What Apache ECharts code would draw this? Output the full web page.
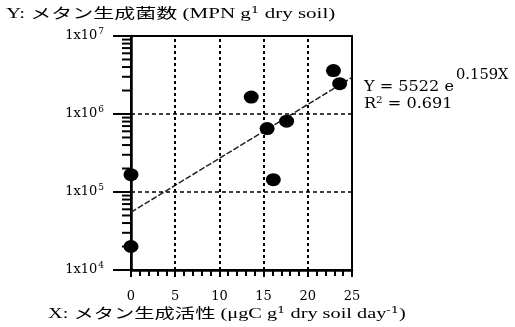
<!DOCTYPE html>
<html>
<head>
<meta charset="utf-8">
<script src="https://cdn.jsdelivr.net/npm/echarts@6/dist/echarts.min.js"></script>
<style>
  html, body { margin: 0; padding: 0; background: #fff; }
  #chart-container { width: 515px; height: 327px; }
</style>
</head>
<body>
<div id="chart-container"></div>
<script>
// メタン生成活性 (X) と メタン生成菌数 (Y)
const activityX = [0, 0, 13.6, 15.4, 16.1, 17.6, 22.9, 23.6];
const countY = [167000, 20000, 1650000, 650000, 144000, 810000, 3600000, 2450000];

// 回帰直線の両端
const trendX = [0, 25];
const trendY = [55000, 2940000];

const xTicks = [0, 5, 10, 15, 20, 25];
const yDecades = [4, 5, 6, 7];
const gridX = [5, 10, 15, 20];
const gridY = [1e5, 1e6];

const serif = '"DejaVu Serif", "Liberation Serif", "Noto Sans CJK JP", serif';
const jpFont = '"Liberation Serif", "Noto Sans CJK JP", serif';

// 対数軸の補助目盛 (2..9 x 10^k)
const minorY = [];
for (let k = yDecades[0]; k < yDecades[yDecades.length - 1]; k++) {
	for (let m = 2; m <= 9; m++) minorY.push([0, m * Math.pow(10, k)]);
}

const supStyle = (size, pad) => ({
	fontSize: size, fontFamily: serif, fill: '#000', verticalAlign: 'top', padding: [0, 0, pad, 0]
});

const myChart = echarts.init(document.getElementById('chart-container'));

const option = {
	backgroundColor: '#fff',
	animation: false,
	grid: {
		left: 131, top: 36, right: 163, bottom: 57,
		show: true, borderColor: '#000', borderWidth: 2,
		outerBoundsMode: 'none'
	},
	xAxis: {
		type: 'value',
		min: 0, max: 25, interval: 5,
		axisLine: { lineStyle: { color: '#000', width: 2.5 } },
		axisTick: { show: true, inside: false, length: 7, lineStyle: { color: '#000', width: 2 } },
		minorTick: { show: true, splitNumber: 5, length: 6, lineStyle: { color: '#000', width: 2 } },
		splitLine: { show: false },
		axisLabel: {
			margin: 20,
			color: '#000',
			fontFamily: serif,
			fontSize: 13,
			formatter: v => xTicks.includes(v) ? String(v) : ''
		}
	},
	yAxis: {
		type: 'log',
		logBase: 10,
		min: Math.pow(10, yDecades[0]),
		max: Math.pow(10, yDecades[yDecades.length - 1]),
		axisLine: { lineStyle: { color: '#000', width: 2.5 } },
		axisTick: { show: true, inside: false, length: 18, lineStyle: { color: '#000', width: 2 } },
		splitLine: { show: false },
		axisLabel: {
			margin: 27,
			color: '#000',
			fontFamily: serif,
			fontSize: 13,
			formatter: v => '1x10{sup|' + Math.round(Math.log10(v)) + '}',
			rich: {
				sup: { fontSize: 9, fontFamily: serif, color: '#000', verticalAlign: 'top', padding: [0, 0, 8, 1] }
			}
		}
	},
	series: [
		{
			// 補助目盛
			type: 'custom',
			silent: true,
			clip: false,
			data: minorY,
			z: 5,
			renderItem: (params, api) => {
				const p = api.coord([api.value(0), api.value(1)]);
				return {
					type: 'line',
					shape: { x1: p[0] - 9, y1: p[1], x2: p[0], y2: p[1] },
					style: { stroke: '#000', lineWidth: 2 }
				};
			}
		},
		{
			// グリッド線
			type: 'line',
			data: [],
			silent: true,
			markLine: {
				symbol: 'none',
				silent: true,
				label: { show: false },
				data: [
					...gridX.map(x => ({ xAxis: x, lineStyle: { color: '#000', width: 2, type: [3, 3] } })),
					...gridY.map(y => ({ yAxis: y, lineStyle: { color: '#000', width: 1.5, type: [4, 3] } }))
				]
			}
		},
		{
			name: 'trend',
			type: 'line',
			data: trendX.map((x, i) => [x, trendY[i]]),
			showSymbol: false,
			silent: true,
			z: 3,
			lineStyle: { color: '#222', width: 1.5, type: [6, 2] }
		},
		{
			name: 'data',
			type: 'scatter',
			data: activityX.map((x, i) => [x, countY[i]]),
			symbol: 'circle',
			symbolSize: [15, 13],
			z: 6,
			itemStyle: { color: '#000', opacity: 1 }
		}
	],
	graphic: [
		{
			type: 'text', x: 6, y: 6, scaleX: 1.5,
			style: {
				text: 'Y: メタン生成菌数 (MPN g{sup|1} dry soil)',
				font: '14px ' + jpFont, fill: '#000', textVerticalAlign: 'top',
				rich: { sup: supStyle(9, 7) }
			}
		},
		{
			type: 'text', x: 48, y: 306, scaleX: 1.45,
			style: {
				text: 'X: メタン生成活性 (μgC g{sup|1} dry soil day{sup|-1})',
				font: '14px ' + jpFont, fill: '#000', textVerticalAlign: 'top',
				rich: { sup: supStyle(9, 7) }
			}
		},
		{
			type: 'text', x: 364, y: 80, scaleX: 1.15,
			style: { text: 'Y = 5522 e', font: '14px ' + serif, fill: '#000', textVerticalAlign: 'top' }
		},
		{
			type: 'text', x: 456, y: 68, scaleX: 1.05,
			style: { text: '0.159X', font: '14px ' + serif, fill: '#000', textVerticalAlign: 'top' }
		},
		{
			type: 'text', x: 364, y: 96, scaleX: 1.15,
			style: {
				text: 'R{sup|2} = 0.691',
				font: '14px ' + serif, fill: '#000', textVerticalAlign: 'top',
				rich: { sup: supStyle(9, 7) }
			}
		}
	]
};

myChart.setOption(option);
</script>
</body>
</html>
